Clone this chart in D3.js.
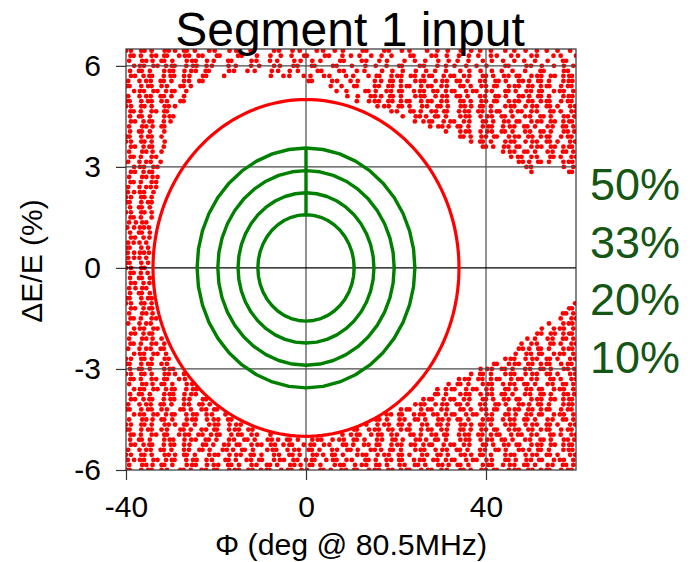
<!DOCTYPE html>
<html>
<head>
<meta charset="utf-8">
<script src="https://cdn.jsdelivr.net/npm/d3@7"></script>
<style>
  html, body { margin: 0; padding: 0; background: #fff; }
  svg { display: block; font-family: "Liberation Sans", Arial, Helvetica, sans-serif; }
</style>
</head>
<body>
<svg id="chart" width="690" height="562"></svg>
<script>
// Axis ranges and ticks
const phiDomain = [-40, 60];
const deDomain = [-6, 6.5];
const phiTicks = [-40, 0, 40];
const deTicks = [-6, -3, 0, 3, 6];

// Acceptance ellipse (half-widths in deg and %)
const acceptancePhi = 34;
const acceptanceDE = 5;

// Emittance contours, outermost first
const contourLabels = ["50%", "33%", "20%", "10%"];
const contourPhi = [24.2, 19.6, 15.1, 10.7];
const contourDE = [3.56, 2.89, 2.23, 1.58];

// Particle distribution: each row is [dE/E, [phase values ...]]
const scatterRows = [
  [6.45, [-40,-38.9,-36.6,-35.9,-34.3,-31.4,-30.5,-29.1,-27.1,-26.5,-24.7,-21.5,-20.3,-17.0,-15.5,-12.3,-11.6,-7.1,-6.0,-3.0,-1.4,2.4,3.8,6.4,8.2,12.6,13.4,17.4,18.4,21.3,23.0,26.9,29.2,31.5,34.4,36.7,38.7,41.1,44.3,46.3,48.8,51.3,53.5,55.9,58.7]],
  [6.3, [-39.0,-38.3,-36.7,-34.3,-33.3,-31.5,-30.9,-28.2,-26.9,-26.0,-23.9,-23.0,-19.8,-19.2,-15.1,-14.3,-10.9,-7.9,-5.6,-3.2,-0.4,0.2,4.2,5.1,8.1,10.0,11.9,14.5,16.8,19.0,23.2,23.9,27.9,28.9,31.3,34.0,36.2,38.3,41.1,42.4,45.6,47.1,50.1,51.3,55.0,56.6,60.0]],
  [6.15, [-39.3,-36.4,-35.5,-34.1,-32.1,-31.5,-29.7,-26.5,-25.3,-24.5,-22.0,-20.5,-17.3,-16.6,-12.1,-11.0,-8.0,-6.4,-2.6,-1.2,1.4,3.2,7.6,8.4,12.4,13.4,16.3,18.0,21.9,24.2,26.5,29.4,31.7,33.7,36.1,39.3,41.3,43.8,46.3,48.5,50.9,53.7,57.1,57.8]],
  [6.0, [-38.2,-36.9,-36.0,-33.9,-33.0,-31.1,-29.8,-29.2,-26.6,-25.1,-24.3,-22.1,-20.9,-17.2,-15.6,-12.2,-10.4,-7.1,-5.8,-2.8,-1.9,1.3,1.9,6.0,6.8,10.2,13.2,15.5,17.9,20.7,21.3,25.3,26.2,29.2,31.1,33.0,35.6,37.9,40.1,44.3,45.0,49.0,50.0,52.4,55.1,57.3,59.4]],
  [5.85, [-39.1,-37.1,-36.5,-34.7,-31.5,-30.3,-29.5,-27.0,-25.5,-24.5,-22.3,-21.6,-17.1,-16.0,-13.0,-11.4,-7.6,-6.2,-3.6,-1.8,2.6,3.4,7.4,8.4,11.3,13.0,16.9,19.2,21.5,24.4,26.7,28.7,31.1,34.3,36.3,38.8,41.3,43.5,45.9,48.7,52.1,52.8,57.3,58.2]],
  [5.7, [-38.9,-38.0,-36.1,-34.8,-34.2,-31.6,-30.1,-29.3,-27.1,-25.9,-22.9,-22.2,-18.2,-7.8,-5.0,-3.7,-0.5,1.0,4.0,5.2,8.9,10.5,13.9,15.7,16.3,19.0,20.3,21.2,23.3,24.2,26.1,27.4,28.0,30.6,32.1,32.9,35.1,36.3,39.3,40.0,41.6,44.0,45.0,46.8,47.4,50.1,51.4,52.3,54.4,55.3,57.2,58.5,59.1]],
  [5.55, [-39.5,-37.0,-35.5,-34.5,-32.3,-31.6,-29.9,-27.1,-26.0,-23.7,-23.0,0.6,1.3,5.8,6.9,9.9,11.5,15.3,16.7,18.7,19.3,21.1,24.3,25.5,26.3,28.8,30.3,31.3,33.5,34.2,35.9,38.7,39.8,42.1,42.8,44.4,47.3,48.2,49.6,51.6,52.2,54.0,57.2,58.4,59.2]],
  [5.4, [-39.8,-39.2,-36.6,-35.1,-34.3,-32.1,-30.9,-27.9,-27.2,-25.6,5.5,7.9,10.7,11.3,15.3,16.2,18.3,19.2,21.1,22.4,23.0,25.6,27.1,27.9,30.1,31.3,34.3,35.0,36.6,39.0,40.0,41.8,42.4,45.1,46.4,47.3,49.4,50.3,52.2,53.5,54.1,56.7,58.2,59.0]],
  [5.25, [-38.2,-36.9,-36.0,-33.9,-33.0,-31.1,-29.8,-29.2,-26.6,6.8,9.0,13.2,13.9,15.5,17.9,18.9,20.7,21.3,24.0,25.3,26.2,28.3,29.2,31.1,32.4,33.0,35.6,37.1,37.9,40.1,41.3,44.3,45.0,46.6,49.0,50.0,51.8,52.4,55.1,56.4,57.3,59.4]],
  [5.1, [-39.5,-37.0,-35.5,-34.5,-32.3,-31.6,-29.9,-27.1,9.2,11.5,14.4,15.3,16.7,18.7,19.3,21.1,24.3,25.5,26.3,28.8,30.3,31.3,33.5,34.2,35.9,38.7,39.8,42.1,42.8,44.4,47.3,48.2,49.6,51.6,52.2,54.0,57.2,58.4,59.2]],
  [4.95, [-39.8,-39.2,-36.6,-35.1,-34.3,-32.1,-30.9,-27.9,-27.2,11.3,14.0,15.3,16.2,18.3,19.2,21.1,22.4,23.0,25.6,27.1,27.9,30.1,31.3,34.3,35.0,36.6,39.0,40.0,41.8,42.4,45.1,46.4,47.3,49.4,50.3,52.2,53.5,54.1,56.7,58.2,59.0]],
  [4.8, [-40,-38.9,-36.6,-35.9,-34.3,-31.4,-30.5,-29.1,15.9,17.4,18.4,20.6,21.3,23.0,25.8,26.9,29.2,29.9,31.5,34.4,35.3,36.7,38.7,39.3,41.1,44.3,45.5,46.3,48.8,50.3,51.3,53.5,54.2,55.9,58.7,59.8]],
  [4.65, [-39.0,-38.3,-36.7,-34.3,-33.3,-31.5,-30.9,19.0,20.2,23.2,23.9,25.5,27.9,28.9,30.7,31.3,34.0,35.3,36.2,38.3,39.2,41.1,42.4,43.0,45.6,47.1,47.9,50.1,51.3,54.3,55.0,56.6,59.0,60.0]],
  [4.5, [-39.1,-37.1,-36.5,-34.7,-31.5,-30.3,-29.5,21.5,24.4,25.3,26.7,28.7,29.3,31.1,34.3,35.5,36.3,38.8,40.3,41.3,43.5,44.2,45.9,48.7,49.8,52.1,52.8,54.4,57.3,58.2,59.6]],
  [4.35, [-38.9,-38.0,-36.1,-34.8,-34.2,-31.6,-30.1,24.2,26.1,27.4,28.0,30.6,32.1,32.9,35.1,36.3,39.3,40.0,41.6,44.0,45.0,46.8,47.4,50.1,51.4,52.3,54.4,55.3,57.2,58.5,59.1]],
  [4.2, [-39.3,-36.4,-35.5,-34.1,-32.1,-31.5,27.6,29.4,30.3,31.7,33.7,34.3,36.1,39.3,40.5,41.3,43.8,45.3,46.3,48.5,49.2,50.9,53.7,54.8,57.1,57.8,59.4]],
  [4.05, [-39.1,-37.1,-36.5,-34.7,-31.5,31.1,34.3,35.5,36.3,38.8,40.3,41.3,43.5,44.2,45.9,48.7,49.8,52.1,52.8,54.4,57.3,58.2,59.6]],
  [3.9, [-39.8,-39.2,-36.6,-35.1,-34.3,-32.1,34.3,35.0,36.6,39.0,40.0,41.8,42.4,45.1,46.4,47.3,49.4,50.3,52.2,53.5,54.1,56.7,58.2,59.0]],
  [3.75, [-40,-38.9,-36.6,-35.9,-34.3,-31.4,36.7,38.7,39.3,41.1,44.3,45.5,46.3,48.8,50.3,51.3,53.5,54.2,55.9,58.7,59.8]],
  [3.6, [-38.9,-38.0,-36.1,-34.8,-34.2,-31.6,39.3,40.0,41.6,44.0,45.0,46.8,47.4,50.1,51.4,52.3,54.4,55.3,57.2,58.5,59.1]],
  [3.45, [-39.3,-36.4,-35.5,-34.1,-32.1,43.8,45.3,46.3,48.5,49.2,50.9,53.7,54.8,57.1,57.8,59.4]],
  [3.3, [-39.0,-38.3,-36.7,-34.3,-33.3,45.6,47.1,47.9,50.1,51.3,54.3,55.0,56.6,59.0,60.0]],
  [3.15, [-39.5,-37.0,-35.5,-34.5,-32.3,47.3,48.2,49.6,51.6,52.2,54.0,57.2,58.4,59.2]],
  [3.0, [-38.2,-36.9,-36.0,-33.9,-33.0,49.0,50.0,57.3,59.4]],
  [2.85, [-38.9,-38.0,-36.1,-34.8,-34.2,50.1,58.5,59.1]],
  [2.7, [-39.3,-36.4,-35.5,-34.1,-33.0]],
  [2.55, [-39.0,-38.3,-36.7,-34.3,-33.3]],
  [2.4, [-39.5,-37.0,-35.5,-34.5,-33.3]],
  [2.25, [-39.6,-38.2,-36.9,-36.0,-33.9]],
  [2.1, [-40,-38.9,-36.6,-35.9,-34.3]],
  [1.95, [-39.8,-39.2,-36.6,-35.1,-34.3]],
  [1.8, [-39.1,-37.1,-36.5,-34.7]],
  [1.65, [-40,-38.9,-36.6,-35.9,-34.3]],
  [1.5, [-39.0,-38.3,-36.7,-34.3]],
  [1.35, [-39.3,-37.8,-36.4,-35.5]],
  [1.2, [-39.7,-38.2,-36.9,-36.0,-34.9]],
  [1.05, [-39.1,-37.1,-36.5,-34.7]],
  [0.9, [-38.9,-38.0,-36.1,-34.8]],
  [0.75, [-39.5,-38.3,-37.0,-35.5]],
  [0.6, [-39.8,-39.2,-36.6,-35.1]],
  [0.45, [-39.6,-38.2,-36.9,-36.0,-34.9]],
  [0.3, [-39.5,-38.2,-37.0,-35.5]],
  [0.15, [-39.8,-39.2,-36.6,-35.1]],
  [0, [-40,-38.9,-36.6,-35.9]],
  [-0.15, [-39.0,-38.3,-36.7,-35.2]],
  [-0.3, [-39.1,-37.1,-36.5,-34.7]],
  [-0.45, [-38.9,-38.0,-36.1,-34.8]],
  [-0.6, [-39.3,-37.9,-36.4,-35.5]],
  [-0.75, [-39.1,-37.1,-36.5,-34.7]],
  [-0.9, [-39.8,-39.2,-36.6,-35.1,-34.3]],
  [-1.05, [-40,-38.9,-36.6,-35.9,-34.3,59.8]],
  [-1.2, [-38.9,-38.0,-36.1,-34.8,-34.2,58.5,59.1]],
  [-1.35, [-39.3,-36.4,-35.5,-34.1,57.1,57.8,59.4]],
  [-1.5, [-39.0,-38.3,-36.7,-34.3,-33.3,56.6,59.0,60.0]],
  [-1.65, [-39.5,-37.0,-35.5,-34.5,54.0,57.2,58.4,59.2]],
  [-1.8, [-38.2,-36.9,-36.0,-33.9,-33.0,52.4,55.1,56.4,57.3,59.4]],
  [-1.95, [-38.9,-38.0,-36.1,-34.8,-34.2,51.4,52.3,54.4,55.3,57.2,58.5,59.1]],
  [-2.1, [-39.3,-36.4,-35.5,-34.1,-32.1,49.2,50.9,53.7,54.8,57.1,57.8,59.4]],
  [-2.25, [-39.0,-38.3,-36.7,-34.3,-33.3,-31.5,47.9,50.1,51.3,54.3,55.0,56.6,59.0,60.0]],
  [-2.4, [-39.5,-37.0,-35.5,-34.5,-32.3,-31.6,47.3,48.2,49.6,51.6,52.2,54.0,57.2,58.4,59.2]],
  [-2.55, [-38.2,-36.9,-36.0,-33.9,-33.0,-31.1,46.6,49.0,50.0,51.8,52.4,55.1,56.4,57.3,59.4]],
  [-2.7, [-40,-38.9,-36.6,-35.9,-34.3,-31.4,-30.5,44.3,45.5,46.3,48.8,50.3,51.3,53.5,54.2,55.9,58.7,59.8]],
  [-2.85, [-39.8,-39.2,-36.6,-35.1,-34.3,-32.1,-30.9,41.8,42.4,45.1,46.4,47.3,49.4,50.3,52.2,53.5,54.1,56.7,58.2,59.0]],
  [-3.0, [-39.1,-37.1,-36.5,-34.7,-31.5,-30.3,-29.5,38.8,40.3,41.3,43.5,44.2,45.9,48.7,49.8,52.1,52.8,54.4,57.3,58.2,59.6]],
  [-3.15, [-40,-38.9,-36.6,-35.9,-34.3,-31.4,-30.5,-29.1,-27.1,36.7,38.7,39.3,41.1,44.3,45.5,46.3,48.8,50.3,51.3,53.5,54.2,55.9,58.7,59.8]],
  [-3.3, [-39.0,-38.3,-36.7,-34.3,-33.3,-31.5,-30.9,-28.2,-26.9,34.0,35.3,36.2,38.3,39.2,41.1,42.4,43.0,45.6,47.1,47.9,50.1,51.3,54.3,55.0,56.6,59.0,60.0]],
  [-3.45, [-39.3,-36.4,-35.5,-34.1,-32.1,-31.5,-29.7,-26.5,-25.3,31.7,33.7,34.3,36.1,39.3,40.5,41.3,43.8,45.3,46.3,48.5,49.2,50.9,53.7,54.8,57.1,57.8,59.4]],
  [-3.6, [-38.2,-36.9,-36.0,-33.9,-33.0,-31.1,-29.8,-29.2,-26.6,-25.1,-24.3,29.2,31.1,32.4,33.0,35.6,37.1,37.9,40.1,41.3,44.3,45.0,46.6,49.0,50.0,51.8,52.4,55.1,56.4,57.3,59.4]],
  [-3.75, [-39.1,-37.1,-36.5,-34.7,-31.5,-30.3,-29.5,-27.0,-25.5,-24.5,28.7,29.3,31.1,34.3,35.5,36.3,38.8,40.3,41.3,43.5,44.2,45.9,48.7,49.8,52.1,52.8,54.4,57.3,58.2,59.6]],
  [-3.9, [-38.9,-38.0,-36.1,-34.8,-34.2,-31.6,-30.1,-29.3,-27.1,-25.9,-22.9,-22.2,26.1,27.4,28.0,30.6,32.1,32.9,35.1,36.3,39.3,40.0,41.6,44.0,45.0,46.8,47.4,50.1,51.4,52.3,54.4,55.3,57.2,58.5,59.1]],
  [-4.05, [-39.5,-37.0,-35.5,-34.5,-32.3,-31.6,-29.9,-27.1,-26.0,-23.7,-23.0,-21.4,24.3,25.5,26.3,28.8,30.3,31.3,33.5,34.2,35.9,38.7,39.8,42.1,42.8,44.4,47.3,48.2,49.6,51.6,52.2,54.0,57.2,58.4,59.2]],
  [-4.2, [-39.8,-39.2,-36.6,-35.1,-34.3,-32.1,-30.9,-27.9,-27.2,-25.6,-23.2,-22.2,-20.4,-19.8,21.1,22.4,23.0,25.6,27.1,27.9,30.1,31.3,34.3,35.0,36.6,39.0,40.0,41.8,42.4,45.1,46.4,47.3,49.4,50.3,52.2,53.5,54.1,56.7,58.2,59.0]],
  [-4.35, [-38.2,-36.9,-36.0,-33.9,-33.0,-31.1,-29.8,-29.2,-26.6,-25.1,-24.3,-22.1,-20.9,-17.9,17.9,18.9,20.7,21.3,24.0,25.3,26.2,28.3,29.2,31.1,32.4,33.0,35.6,37.1,37.9,40.1,41.3,44.3,45.0,46.6,49.0,50.0,51.8,52.4,55.1,56.4,57.3,59.4]],
  [-4.5, [-39.3,-36.4,-35.5,-34.1,-32.1,-31.5,-29.7,-26.5,-25.3,-24.5,-22.0,-20.5,-19.5,-17.3,-16.6,15.6,16.3,18.0,20.8,21.9,24.2,24.9,26.5,29.4,30.3,31.7,33.7,34.3,36.1,39.3,40.5,41.3,43.8,45.3,46.3,48.5,49.2,50.9,53.7,54.8,57.1,57.8,59.4]],
  [-4.65, [-40,-38.9,-36.6,-35.9,-34.3,-31.4,-30.5,-29.1,-27.1,-26.5,-24.7,-21.5,-20.3,-19.5,-17.0,-15.5,-14.5,13.4,15.9,17.4,18.4,20.6,21.3,23.0,25.8,26.9,29.2,29.9,31.5,34.4,35.3,36.7,38.7,39.3,41.1,44.3,45.5,46.3,48.8,50.3,51.3,53.5,54.2,55.9,58.7,59.8]],
  [-4.8, [-39.8,-39.2,-36.6,-35.1,-34.3,-32.1,-30.9,-27.9,-27.2,-25.6,-23.2,-22.2,-20.4,-19.8,-17.1,-15.8,-14.9,-12.8,-11.9,10.7,11.3,14.0,15.3,16.2,18.3,19.2,21.1,22.4,23.0,25.6,27.1,27.9,30.1,31.3,34.3,35.0,36.6,39.0,40.0,41.8,42.4,45.1,46.4,47.3,49.4,50.3,52.2,53.5,54.1,56.7,58.2,59.0]],
  [-4.95, [-39.0,-38.3,-36.7,-34.3,-33.3,-31.5,-30.9,-28.2,-26.9,-26.0,-23.9,-23.0,-21.1,-19.8,-19.2,-16.6,-15.1,-14.3,-12.1,-10.9,-7.9,8.1,10.0,11.3,11.9,14.5,16.0,16.8,19.0,20.2,23.2,23.9,25.5,27.9,28.9,30.7,31.3,34.0,35.3,36.2,38.3,39.2,41.1,42.4,43.0,45.6,47.1,47.9,50.1,51.3,54.3,55.0,56.6,59.0,60.0]],
  [-5.1, [-39.1,-37.1,-36.5,-34.7,-31.5,-30.3,-29.5,-27.0,-25.5,-24.5,-22.3,-21.6,-19.9,-17.1,-16.0,-13.7,-13.0,-11.4,-8.5,-7.6,-6.2,-4.2,-3.6,-1.8,1.4,2.6,3.4,5.9,7.4,8.4,10.6,11.3,13.0,15.8,16.9,19.2,19.9,21.5,24.4,25.3,26.7,28.7,29.3,31.1,34.3,35.5,36.3,38.8,40.3,41.3,43.5,44.2,45.9,48.7,49.8,52.1,52.8,54.4,57.3,58.2,59.6]],
  [-5.25, [-38.9,-38.0,-36.1,-34.8,-34.2,-31.6,-30.1,-29.3,-27.1,-25.9,-22.9,-22.2,-20.6,-18.2,-17.2,-15.4,-14.8,-12.1,-10.8,-9.9,-7.8,-6.9,-5.0,-3.7,-3.1,-0.5,1.0,1.8,4.0,5.2,8.2,8.9,10.5,12.9,13.9,15.7,16.3,19.0,20.3,21.2,23.3,24.2,26.1,27.4,28.0,30.6,32.1,32.9,35.1,36.3,39.3,40.0,41.6,44.0,45.0,46.8,47.4,50.1,51.4,52.3,54.4,55.3,57.2,58.5,59.1]],
  [-5.4, [-39.5,-37.0,-35.5,-34.5,-32.3,-31.6,-29.9,-27.1,-26.0,-23.7,-23.0,-21.4,-18.5,-17.6,-16.2,-14.2,-13.6,-11.8,-8.6,-7.4,-6.6,-4.1,-2.6,-1.6,0.6,1.3,3.0,5.8,6.9,9.2,9.9,11.5,14.4,15.3,16.7,18.7,19.3,21.1,24.3,25.5,26.3,28.8,30.3,31.3,33.5,34.2,35.9,38.7,39.8,42.1,42.8,44.4,47.3,48.2,49.6,51.6,52.2,54.0,57.2,58.4,59.2]],
  [-5.55, [-40,-38.9,-36.6,-35.9,-34.3,-31.4,-30.5,-29.1,-27.1,-26.5,-24.7,-21.5,-20.3,-19.5,-17.0,-15.5,-14.5,-12.3,-11.6,-9.9,-7.1,-6.0,-3.7,-3.0,-1.4,1.5,2.4,3.8,5.8,6.4,8.2,11.4,12.6,13.4,15.9,17.4,18.4,20.6,21.3,23.0,25.8,26.9,29.2,29.9,31.5,34.4,35.3,36.7,38.7,39.3,41.1,44.3,45.5,46.3,48.8,50.3,51.3,53.5,54.2,55.9,58.7,59.8]],
  [-5.7, [-39.6,-38.2,-36.9,-36.0,-33.9,-33.0,-31.1,-29.8,-29.2,-26.6,-25.1,-24.3,-22.1,-20.9,-17.9,-17.2,-15.6,-13.2,-12.2,-10.4,-9.8,-7.1,-5.8,-4.9,-2.8,-1.9,0.0,1.3,1.9,4.5,6.0,6.8,9.0,10.2,13.2,13.9,15.5,17.9,18.9,20.7,21.3,24.0,25.3,26.2,28.3,29.2,31.1,32.4,33.0,35.6,37.1,37.9,40.1,41.3,44.3,45.0,46.6,49.0,50.0,51.8,52.4,55.1,56.4,57.3,59.4]],
  [-5.85, [-39.3,-36.4,-35.5,-34.1,-32.1,-31.5,-29.7,-26.5,-25.3,-24.5,-22.0,-20.5,-19.5,-17.3,-16.6,-14.9,-12.1,-11.0,-8.7,-8.0,-6.4,-3.5,-2.6,-1.2,0.8,1.4,3.2,6.4,7.6,8.4,10.9,12.4,13.4,15.6,16.3,18.0,20.8,21.9,24.2,24.9,26.5,29.4,30.3,31.7,33.7,34.3,36.1,39.3,40.5,41.3,43.8,45.3,46.3,48.5,49.2,50.9,53.7,54.8,57.1,57.8,59.4]],
  [-6.0, [-39.8,-39.2,-36.6,-35.1,-34.3,-32.1,-30.9,-27.9,-27.2,-25.6,-23.2,-22.2,-20.4,-19.8,-17.1,-15.8,-14.9,-12.8,-11.9,-10.0,-8.7,-8.1,-5.5,-4.0,-3.2,-1.0,0.2,3.2,3.9,5.5,7.9,8.9,10.7,11.3,14.0,15.3,16.2,18.3,19.2,21.1,22.4,23.0,25.6,27.1,27.9,30.1,31.3,34.3,35.0,36.6,39.0,40.0,41.8,42.4,45.1,46.4,47.3,49.4,50.3,52.2,53.5,54.1,56.7,58.2,59.0]]
];

// Layout
const plot = { left: 126, right: 576, top: 49, bottom: 470 };

const svg = d3.select("#chart");
const x = d3.scaleLinear().domain(phiDomain).range([plot.left, plot.right]);
const y = d3.scaleLinear().domain(deDomain).range([plot.bottom, plot.top]);

svg.append("defs").append("clipPath").attr("id", "plot-clip")
  .append("rect")
  .attr("x", plot.left).attr("y", plot.top)
  .attr("width", plot.right - plot.left).attr("height", plot.bottom - plot.top);

// Scatter points
const points = scatterRows.flatMap(([de, phis]) => phis.map(p => ({ phi: p, de })));
svg.append("g").attr("clip-path", "url(#plot-clip)")
  .selectAll("circle").data(points).join("circle")
  .attr("cx", d => x(d.phi))
  .attr("cy", d => y(d.de))
  .attr("r", 2.4)
  .attr("fill", "#ff0000");

// Grid lines
const grid = svg.append("g");
grid.selectAll("line.v").data(phiTicks.filter(t => t > phiDomain[0])).join("line")
  .attr("x1", d => x(d)).attr("x2", d => x(d))
  .attr("y1", plot.top).attr("y2", plot.bottom)
  .attr("stroke", "#4a4a4a").attr("stroke-width", 1.2);
grid.selectAll("line.h").data(deTicks.filter(t => t > deDomain[0])).join("line")
  .attr("x1", plot.left).attr("x2", plot.right)
  .attr("y1", d => y(d)).attr("y2", d => y(d))
  .attr("stroke", d => d === 0 ? "#000" : "#4a4a4a")
  .attr("stroke-width", 1.2);

// Ellipse outlines, starting from the top point
function ellipse(a, b, step) {
  return d3.range(0, 360 + step / 2, step).map(t => {
    const r = t * Math.PI / 180;
    return [a * Math.sin(r), b * Math.cos(r)];
  });
}
const line = d3.line().x(d => x(d[0])).y(d => y(d[1]));

const contours = svg.append("g").attr("fill", "none").attr("stroke", "#008000")
  .attr("stroke-width", 3.4).attr("stroke-linejoin", "round");
contourPhi.forEach((a, i) => {
  contours.append("path").attr("d", line(ellipse(a, contourDE[i], 9)));
});
contours.append("path")
  .attr("d", line([[0, contourDE[0]], [0, contourDE[contourDE.length - 1]]]));

svg.append("path")
  .attr("d", line(ellipse(acceptancePhi, acceptanceDE, 2)))
  .attr("fill", "none").attr("stroke", "#ff0000").attr("stroke-width", 3.2);

// Frame
svg.append("rect")
  .attr("x", plot.left).attr("y", plot.top)
  .attr("width", plot.right - plot.left).attr("height", plot.bottom - plot.top)
  .attr("fill", "none").attr("stroke", "#333").attr("stroke-width", 1.2);

// Axes
const plain = d => String(d);
const xAxis = svg.append("g").attr("transform", `translate(0,${plot.bottom})`)
  .call(d3.axisBottom(x).tickValues(phiTicks).tickSize(10).tickPadding(16).tickFormat(plain));
const yAxis = svg.append("g").attr("transform", `translate(${plot.left},0)`)
  .call(d3.axisLeft(y).tickValues(deTicks).tickSize(10).tickPadding(15).tickFormat(plain));
[xAxis, yAxis].forEach(g => {
  g.select(".domain").remove();
  g.selectAll(".tick line").attr("stroke", "#333").attr("stroke-width", 1.2);
  g.selectAll(".tick text").attr("font-size", 30).attr("fill", "#000")
    .attr("font-family", '"Liberation Sans", Arial, sans-serif');
});

// Titles
svg.append("text")
  .attr("x", 350).attr("y", 46)
  .attr("text-anchor", "middle")
  .attr("font-size", 48)
  .text("Segment 1 input");

svg.append("text")
  .attr("x", 215).attr("y", 555)
  .attr("font-size", 30)
  .attr("textLength", 272).attr("lengthAdjust", "spacingAndGlyphs")
  .text("Φ (deg @ 80.5MHz)");

svg.append("text")
  .attr("transform", "translate(42,261) rotate(-90)")
  .attr("text-anchor", "middle")
  .attr("font-size", 30)
  .text("ΔE/E (%)");

// Contour percentage labels
svg.append("g").selectAll("text").data(contourLabels).join("text")
  .attr("x", 590)
  .attr("y", (d, i) => 200 + i * 57.7)
  .attr("font-size", 45)
  .attr("fill", "#155615")
  .text(d => d);
</script>
</body>
</html>
